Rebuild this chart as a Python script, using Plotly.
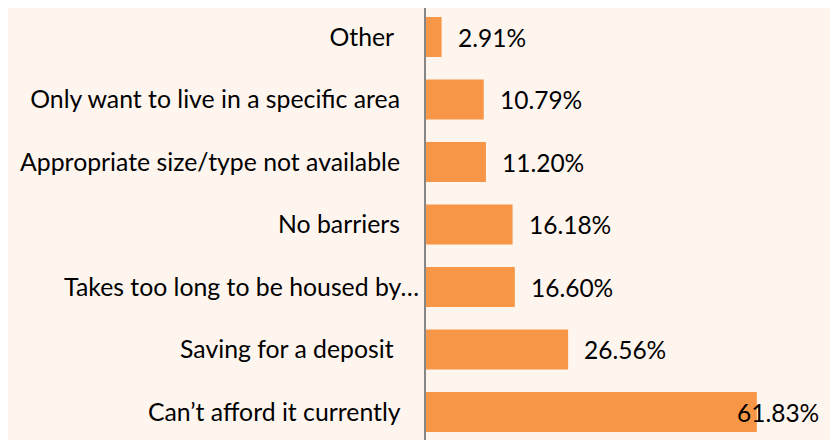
import plotly.graph_objects as go

categories = [
    "Can\u2019t afford it currently",
    "Saving for a deposit",
    "Takes too long to be housed by\u2026",
    "No barriers",
    "Appropriate size/type not available",
    "Only want to live in a specific area",
    "Other",
]
values = [61.83, 26.56, 16.60, 16.18, 11.20, 10.79, 2.91]
value_labels = ["61.83%", "26.56%", "16.60%", "16.18%", "11.20%", "10.79%", "2.91%"]

# trailing padding per label (Excel-style spacing)
pads = [3, 4, 0, 3, 3, 3, 4]
ticktext = [c + "\u00a0" * p for c, p in zip(categories, pads)]
idx = list(range(len(categories)))

BG = "#FEF5EF"
BAR = "#F79646"
FONT = "Lato, 'Open Sans', sans-serif"

fig = go.Figure()
fig.add_trace(go.Bar(
    x=values, y=idx, orientation="h",
    marker=dict(color=BAR, line=dict(width=0)),
    width=0.64, hoverinfo="skip",
))

for i, (v, t) in enumerate(zip(values, value_labels)):
    last = v == max(values)
    fig.add_annotation(
        x=v, y=i, text=t, showarrow=False,
        xanchor="right" if last else "left",
        xshift=64 if last else 14, yshift=0,
        font=dict(family=FONT, size=24.5, color="#000000"),
    )

# page body has an 8px default margin, so the figure is 8px smaller
fig.update_layout(
    width=830, height=432,
    margin=dict(l=418, r=0, t=0, b=0, autoexpand=False),
    paper_bgcolor=BG, plot_bgcolor=BG,
    showlegend=False,
    xaxis=dict(range=[0, 77], visible=False, showgrid=False, zeroline=False,
               automargin=False),
    yaxis=dict(
        range=[-0.448, 6.464], automargin=False,
        tickvals=idx, ticktext=ticktext,
        showgrid=False, zeroline=False,
        showline=True, linecolor="#868686", linewidth=2,
        ticks="", ticklen=0, ticklabelstandoff=0,
        tickfont=dict(family=FONT, size=24.8, color="#000000"),
    ),
)

fig.write_html("out.html")
